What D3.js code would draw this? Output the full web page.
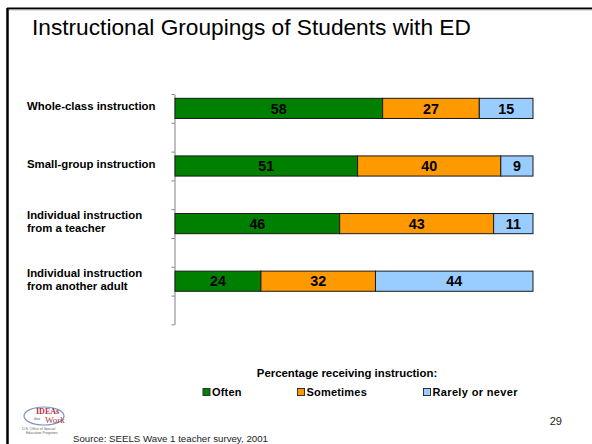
<!DOCTYPE html>
<html>
<head>
<meta charset="utf-8">
<script src="https://cdn.jsdelivr.net/npm/d3@7"></script>
<style>
  html, body { margin: 0; padding: 0; background: #fff; }
  svg { display: block; font-family: "Liberation Sans", Arial, sans-serif; }
</style>
</head>
<body>
<svg id="chart" width="592" height="444"></svg>
<script>
// Instruction types (display lines for each label)
const categories = [
  "Whole-class instruction",
  "Small-group instruction",
  "Individual instruction from a teacher",
  "Individual instruction from another adult"
];
const categoryLines = [
  ["Whole-class instruction"],
  ["Small-group instruction"],
  ["Individual instruction", "from a teacher"],
  ["Individual instruction", "from another adult"]
];

// Percentage receiving each kind of instruction
const seriesNames = ["Often", "Sometimes", "Rarely or never"];
const often = [58, 51, 46, 24];
const sometimes = [27, 40, 43, 32];
const rarely = [15, 9, 11, 44];

const colors = ["#008000", "#FF9900", "#99CCFF"];

const svg = d3.select("#chart");

// Slide frame
svg.append("line").attr("x1", 7).attr("x2", 592).attr("y1", 8.5).attr("y2", 8.5)
  .attr("stroke", "#000").attr("stroke-width", 2);
svg.append("line").attr("x1", 7.5).attr("x2", 7.5).attr("y1", 8).attr("y2", 444)
  .attr("stroke", "#000").attr("stroke-width", 2.5);
svg.append("line").attr("x1", 9).attr("x2", 592).attr("y1", 10).attr("y2", 10)
  .attr("stroke", "#bbb").attr("stroke-width", 1);

// Title
svg.append("text")
  .attr("x", 32).attr("y", 35)
  .attr("font-size", 22.7).attr("fill", "#000")
  .text("Instructional Groupings of Students with ED");

// Scales
const x = d3.scaleLinear().domain([0, 100]).range([175, 533]);
const y = d3.scaleBand().domain(categories).range([94, 324.4]);
const slotH = y.step() / 2;
const barH = slotH * 0.7;
const barY = c => y(c) + (slotH - barH) / 2;

// Stacked data
const table = categories.map((c, i) => ({ cat: c, Often: often[i], Sometimes: sometimes[i], "Rarely or never": rarely[i] }));
const stacked = d3.stack().keys(seriesNames)(table);

// Category axis with a tick at every half step
const slot = d3.scaleLinear().domain([0, categories.length * 2]).range(y.range());
const axis = svg.append("g")
  .attr("transform", "translate(174.5,0)")
  .call(d3.axisLeft(slot).tickValues(d3.range(categories.length * 2 + 1)).tickFormat("").tickSize(3).tickSizeOuter(0));
axis.select(".domain").attr("stroke", "#808080");
axis.selectAll(".tick line").attr("stroke", "#808080");

// Bars
const layers = svg.append("g").selectAll("g").data(stacked).join("g")
  .attr("fill", (d, i) => colors[i]);
layers.selectAll("rect").data(d => d).join("rect")
  .attr("x", d => x(d[0]))
  .attr("y", d => barY(d.data.cat))
  .attr("width", d => x(d[1]) - x(d[0]))
  .attr("height", barH)
  .attr("stroke", "#1a1a1a").attr("stroke-width", 1);

// Value labels
layers.selectAll("text").data(d => d.map(v => ({ v, key: d.key }))).join("text")
  .attr("x", d => (x(d.v[0]) + x(d.v[1])) / 2)
  .attr("y", d => barY(d.v.data.cat) + barH / 2)
  .attr("dy", "0.36em")
  .attr("text-anchor", "middle")
  .attr("font-size", 14.3).attr("font-weight", "bold").attr("fill", "#000")
  .text(d => d.v.data[d.key]);

// Category labels
categories.forEach((c, i) => {
  const lines = categoryLines[i];
  const cy = barY(c) + barH / 2 - 2;
  const lh = 13.3;
  const t = svg.append("text")
    .attr("font-size", 11.4).attr("font-weight", "bold").attr("fill", "#000");
  lines.forEach((ln, j) => {
    t.append("tspan")
      .attr("x", 27)
      .attr("y", cy + (j - (lines.length - 1) / 2) * lh)
      .attr("dy", "0.35em")
      .text(ln);
  });
});

// Legend
svg.append("text")
  .attr("x", 347).attr("y", 373).attr("dy", "0.35em")
  .attr("text-anchor", "middle")
  .attr("font-size", 11.4).attr("font-weight", "bold")
  .text("Percentage receiving instruction:");

const legendX = [203, 297.5, 423.5];
seriesNames.forEach((s, i) => {
  svg.append("rect")
    .attr("x", legendX[i]).attr("y", 388.5)
    .attr("width", 7).attr("height", 7)
    .attr("fill", colors[i]).attr("stroke", "#333").attr("stroke-width", 1);
  svg.append("text")
    .attr("x", legendX[i] + 9).attr("y", 392.5).attr("dy", "0.35em")
    .attr("font-size", 11).attr("font-weight", "bold")
    .attr("letter-spacing", i === 2 ? 0.35 : 0.2)
    .text(s);
});

// Page number
svg.append("text")
  .attr("x", 562).attr("y", 421).attr("dy", "0.35em")
  .attr("text-anchor", "end")
  .attr("font-size", 11).attr("fill", "#222")
  .text("29");

// Source note
svg.append("text")
  .attr("x", 73).attr("y", 442)
  .attr("font-size", 9.7).attr("fill", "#222")
  .text("Source: SEELS Wave 1 teacher survey, 2001");

// IDEAs that Work logo
const logo = svg.append("g").attr("transform", "translate(22,405)");
logo.append("ellipse").attr("cx", 22).attr("cy", 11).attr("rx", 20).attr("ry", 9)
  .attr("fill", "none").attr("stroke", "#5a78b8").attr("stroke-width", 1.2).attr("opacity", 0.8);
logo.append("text").attr("x", 14).attr("y", 9).attr("font-family", "Liberation Serif, serif")
  .attr("font-size", 8).attr("font-weight", "bold").attr("fill", "#b03040").text("IDEAs");
logo.append("text").attr("x", 12).attr("y", 15).attr("font-family", "Liberation Serif, serif")
  .attr("font-size", 4).attr("fill", "#555").text("that");
logo.append("text").attr("x", 23).attr("y", 18).attr("font-family", "Liberation Serif, serif")
  .attr("font-size", 9).attr("fill", "#b03040").text("Work");
logo.append("text").attr("x", 0).attr("y", 25).attr("font-size", 3.5).attr("fill", "#666")
  .text("U.S. Office of Special");
logo.append("text").attr("x", 4).attr("y", 29).attr("font-size", 3.5).attr("fill", "#666")
  .text("Education Programs");
</script>
</body>
</html>
